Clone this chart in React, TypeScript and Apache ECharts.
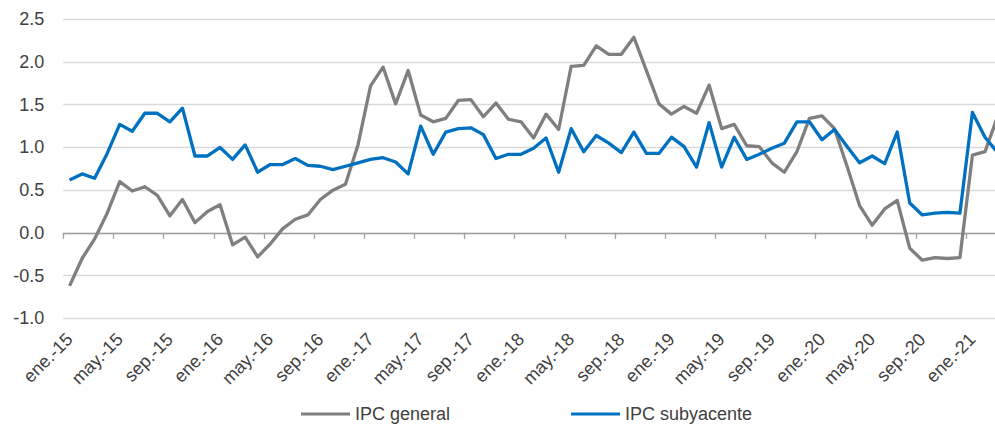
import React, { useEffect, useRef } from "react";
import * as echarts from "echarts";

const monthNames = ["ene.", "feb.", "mar.", "abr.", "may.", "jun.", "jul.", "ago.", "sep.", "oct.", "nov.", "dic."];
const years = ["15", "16", "17", "18", "19", "20", "21"];
const categories: string[] = [];
for (const y of years) {
  for (const m of monthNames) {
    if (categories.length < 75) categories.push(`${m}-${y}`);
  }
}

const ipcGeneral = [
  -0.62, -0.30, -0.07, 0.23, 0.60, 0.49, 0.54, 0.44, 0.20, 0.39, 0.12, 0.25,
  0.33, -0.14, -0.05, -0.28, -0.13, 0.05, 0.16, 0.21, 0.39, 0.50, 0.57, 1.03,
  1.72, 1.94, 1.51, 1.90, 1.38, 1.30, 1.34, 1.55, 1.56, 1.36, 1.52, 1.33,
  1.30, 1.11, 1.39, 1.21, 1.95, 1.96, 2.19, 2.09, 2.09, 2.29, 1.90, 1.51,
  1.39, 1.48, 1.40, 1.73, 1.22, 1.27, 1.02, 1.01, 0.82, 0.71, 0.95, 1.34,
  1.37, 1.22, 0.78, 0.32, 0.09, 0.28, 0.38, -0.18, -0.32, -0.29, -0.30, -0.29,
  0.91, 0.95, 1.36,
];

const ipcSubyacente = [
  0.62, 0.69, 0.64, 0.93, 1.27, 1.19, 1.40, 1.40, 1.30, 1.46, 0.90, 0.90,
  1.00, 0.86, 1.03, 0.71, 0.80, 0.80, 0.87, 0.79, 0.78, 0.74, 0.78, 0.82,
  0.86, 0.88, 0.83, 0.69, 1.25, 0.92, 1.18, 1.22, 1.23, 1.15, 0.87, 0.92,
  0.92, 0.99, 1.11, 0.71, 1.22, 0.95, 1.14, 1.05, 0.94, 1.18, 0.93, 0.93,
  1.12, 1.01, 0.77, 1.29, 0.77, 1.12, 0.86, 0.92, 0.99, 1.05, 1.30, 1.30,
  1.09, 1.21, 1.01, 0.82, 0.90, 0.81, 1.18, 0.35, 0.21, 0.23, 0.24, 0.23,
  1.41, 1.12, 0.94,
];

const FONT = "'Liberation Sans', Arial, sans-serif";
const TEXT = "#404040";

export default function App() {
  const ref = useRef<HTMLDivElement>(null);
  useEffect(() => {
    if (!ref.current) return;
    const chart = echarts.init(ref.current, undefined, { renderer: "svg" });
    chart.setOption({
      animation: false,
      backgroundColor: "#ffffff",
      textStyle: { fontFamily: FONT },
      grid: {
        left: 63.3,
        top: 19.3,
        width: 940.5,
        height: 299,
        containLabel: false,
        outerBoundsMode: "none",
      },
      legend: {
        left: 296,
        top: 400,
        itemWidth: 49,
        itemHeight: 3,
        itemGap: 121,
        icon: "rect",
        textStyle: { fontFamily: FONT, fontSize: 18, color: TEXT },
        data: ["IPC general", "IPC subyacente"],
      },
      xAxis: [
        {
          type: "category",
          data: categories,
          boundaryGap: true,
          position: "bottom",
          axisLine: { show: false, onZero: false },
          axisTick: { show: false },
          axisLabel: {
            interval: 3,
            rotate: 45,
            margin: 18,
            fontSize: 18,
            color: TEXT,
            fontFamily: FONT,
          },
          splitLine: { show: false },
        },
        {
          type: "category",
          data: categories,
          boundaryGap: true,
          position: "bottom",
          axisLine: { show: true, onZero: true, lineStyle: { color: "#a0a0a0", width: 1.3 } },
          axisTick: { show: true, interval: 3, length: 6, lineStyle: { color: "#a0a0a0", width: 1.3 } },
          axisLabel: { show: false },
          splitLine: { show: false },
        },
      ],
      yAxis: {
        type: "value",
        min: -1,
        max: 2.5,
        interval: 0.5,
        axisLine: { show: false },
        axisTick: { show: false },
        axisLabel: {
          margin: 19,
          fontSize: 18,
          color: TEXT,
          fontFamily: FONT,
          formatter: (v: number) => v.toFixed(1),
        },
        splitLine: { show: true, lineStyle: { color: "#d9d9d9", width: 1.3 } },
      },
      series: [
        {
          name: "IPC general",
          type: "line",
          data: ipcGeneral,
          xAxisIndex: 0,
          symbol: "none",
          color: "#7f7f7f",
          lineStyle: { width: 3.3, color: "#7f7f7f", join: "round" },
          z: 2,
        },
        {
          name: "IPC subyacente",
          type: "line",
          data: ipcSubyacente,
          xAxisIndex: 0,
          symbol: "none",
          color: "#0070c0",
          lineStyle: { width: 3.3, color: "#0070c0", join: "round" },
          z: 3,
        },
      ],
    });
    return () => chart.dispose();
  }, []);
  return (
    <div
      ref={ref}
      style={{ position: "fixed", left: 0, top: 0, width: 995, height: 425, overflow: "hidden" }}
    />
  );
}
